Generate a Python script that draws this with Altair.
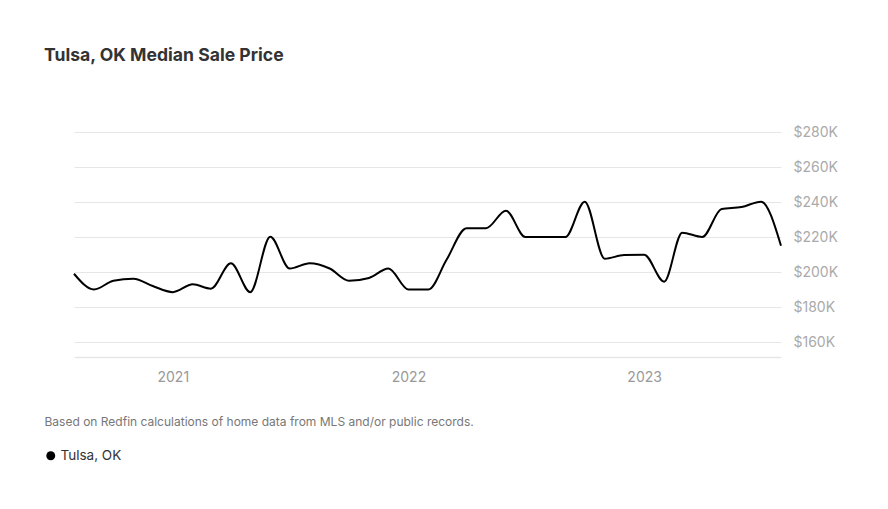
import altair as alt
import pandas as pd

months = pd.date_range("2020-08-01", "2023-08-01", freq="MS").strftime("%Y-%m-%d").tolist()
prices = [
    199000, 190000, 195000, 196200, 192000, 188500, 193000, 190500, 205000, 188500,
    220200, 202000, 205000, 202000, 195000, 196600, 202000, 190000, 190000, 207000,
    225000, 225000, 235000, 220000, 220000, 220000, 240200, 207600, 209700, 209900,
    194500, 222500, 220000, 236000, 237100, 240200, 215000,
]
series = ["Tulsa, OK"] * len(months)
y_ticks = [160000, 180000, 200000, 220000, 240000, 260000, 280000]
x_ticks = ["2021-01-01", "2022-01-01", "2023-01-01"]

df = pd.DataFrame({"month": months, "price": prices, "series": series})

FONT = "Inter"

chart = (
    alt.Chart(df)
    .mark_line(interpolate="monotone", strokeWidth=2)
    .encode(
        x=alt.X(
            "month:T",
            scale=alt.Scale(type="utc", domain=[months[0], months[-1]], nice=False),
            axis=alt.Axis(
                values=x_ticks,
                format="%Y",
                grid=False,
                ticks=False,
                domain=True,
                domainColor="#e6e6e6",
                domainWidth=1.5,
                labelColor="#999999",
                labelFontSize=14,
                labelFont=FONT,
                labelPadding=13,
                title="Based on Redfin calculations of home data from MLS and/or public records.",
                titleFont=FONT,
                titleFontSize=12,
                titleFontWeight="normal",
                titleColor="#777777",
                titleAnchor="start",
                titleAlign="left",
                titleBaseline="alphabetic",
                titleX=-30,
                titleY=68,
            ),
        ),
        y=alt.Y(
            "price:Q",
            scale=alt.Scale(domain=[151430, 280000], nice=False, zero=False),
            axis=alt.Axis(
                orient="right",
                values=y_ticks,
                labelExpr="'$' + datum.value / 1000 + 'K'",
                grid=True,
                gridColor="#e6e6e6",
                ticks=False,
                domain=False,
                labelColor="#aaaaaa",
                labelFontSize=14,
                labelFont=FONT,
                labelPadding=12,
                title=None,
            ),
        ),
        color=alt.Color(
            "series:N",
            scale=alt.Scale(range=["#000000"]),
            legend=alt.Legend(
                orient="none",
                legendX=-30,
                legendY=317,
                title=None,
                symbolType="circle",
                symbolFillColor="#000000",
                symbolStrokeWidth=0,
                symbolSize=80,
                labelFont=FONT,
                labelFontSize=13.5,
                labelColor="#333333",
                labelOffset=3,
                padding=0,
            ),
        ),
    )
    .properties(
        width=707,
        height=225,
        padding={"left": 66, "top": 124, "right": 99, "bottom": 144},
        autosize=alt.AutoSizeParams(type="none"),
        title=alt.TitleParams(
            "Tulsa, OK Median Sale Price",
            anchor="start",
            frame="group",
            dx=-30,
            offset=46,
            baseline="alphabetic",
            font=FONT,
            fontSize=17.6,
            fontWeight="bold",
            color="#333333",
        ),
    )
    .configure_view(stroke=None)
)

chart.save("out.html", embed_options={"renderer": "svg", "actions": False})
